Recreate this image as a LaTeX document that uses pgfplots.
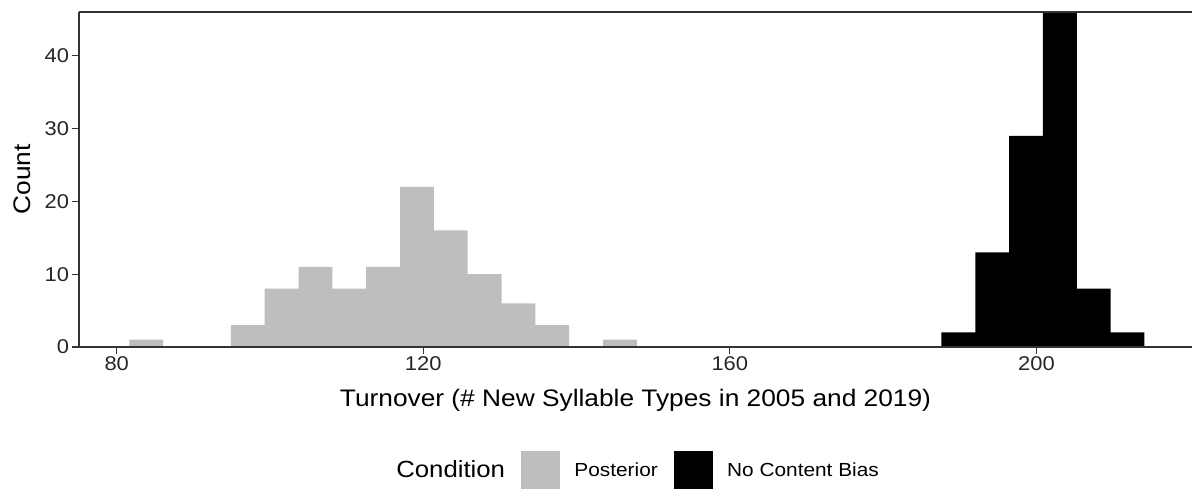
\documentclass[border=0pt]{standalone}
\usepackage{fontspec}
\setmainfont[FakeStretch=1.1]{Liberation Sans}
\usepackage{pgfplots}
\pgfplotsset{compat=1.18}
\definecolor{postgray}{HTML}{BEBEBE}
\definecolor{axgray}{HTML}{333333}

\begin{document}
\begin{tikzpicture}
\begin{axis}[
  name=ax, at={(0,0)}, anchor=south west,
  scale only axis, width=1113bp, height=335bp,
  xmin=75.08, xmax=220.3, ymin=0, ymax=46,
  axis x line*=bottom, axis y line*=left,
  axis on top,
  axis line style={axgray, line width=1.1bp, -},
  xtick={80,120,160,200}, ytick={0,10,20,30,40},
  minor tick num=0,
  tick align=outside, major tick length=6.5bp,
  tick style={axgray, line width=1.1bp},
  ticklabel style={font=\fontsize{20}{23}\selectfont, text=black!85},
  /pgf/number format/assume math mode=true,
  xlabel={Turnover (\# New Syllable Types in 2005 and 2019)},
  ylabel={Count},
  label style={font=\fontsize{24}{28}\selectfont},
  xlabel style={at={(axis description cs:0.5,-0.16)}, anchor=center},
  ylabel style={at={(axis description cs:-0.0512,0.5)}, anchor=center},
  legend columns=3,
  legend style={at={(0.4951,-0.367)}, anchor=center, draw=none, fill=none,
    font=\fontsize{19}{22}\selectfont, inner sep=0bp,
    nodes={inner sep=0bp},
    /tikz/every odd column/.append style={column sep=15bp},
    /tikz/every even column/.append style={column sep=16bp}},
]
\addplot[ybar interval, fill=postgray, draw=none, forget plot] coordinates {
(81.650,1) (86.065,0) (90.480,0) (94.895,3) (99.310,8) (103.725,11)
(108.140,8) (112.555,11) (116.970,22) (121.385,16) (125.800,10)
(130.215,6) (134.630,3) (139.045,0) (143.460,1) (147.875,0)
};
\addplot[ybar interval, fill=black, draw=none, forget plot] coordinates {
(187.610,2) (192.025,13) (196.440,29) (200.855,46) (205.270,8)
(209.685,2) (214.100,0)
};
\addlegendimage{empty legend}
\addlegendentry{\fontsize{23.5}{27}\selectfont Condition}
\addlegendimage{legend image code/.code={\fill[postgray] (0bp,-18.5bp) rectangle (38bp,18.5bp);}}
\addlegendentry{Posterior}
\addlegendimage{legend image code/.code={\fill[black] (0bp,-18.5bp) rectangle (38bp,18.5bp);}}
\addlegendentry{No Content Bias}
\end{axis}
\draw[axgray, line width=1.1bp] (ax.north west) -- (ax.north east);
\pgfresetboundingbox
\useasboundingbox (-79bp,-142bp) rectangle (1113bp,347bp);
\end{tikzpicture}
\end{document}
